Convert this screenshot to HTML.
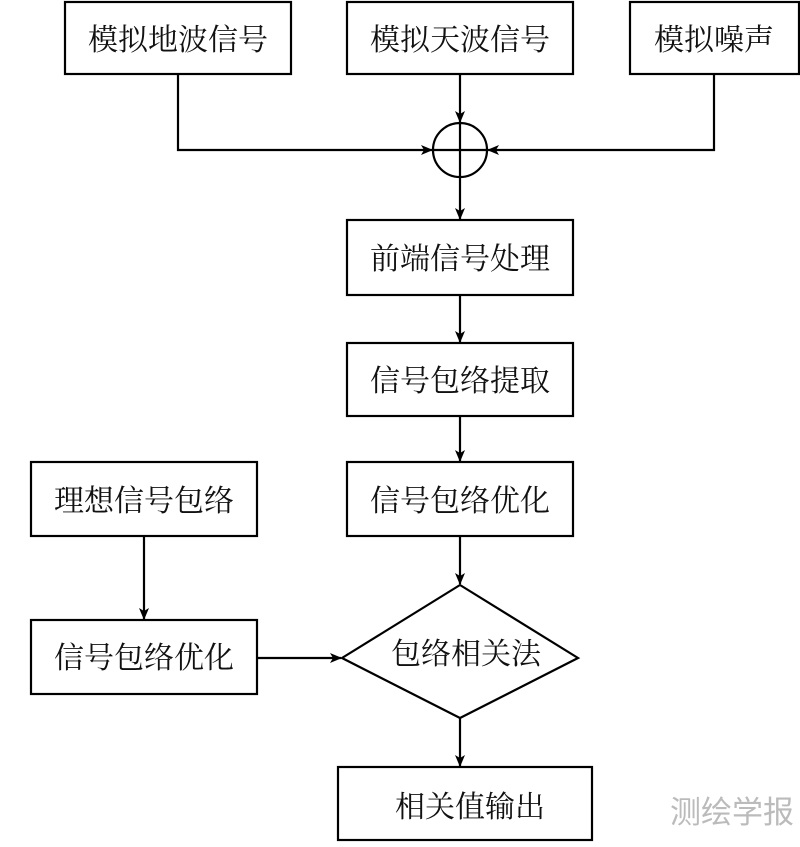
<!DOCTYPE html>
<html><head><meta charset="utf-8"><style>
html,body{margin:0;padding:0;background:#fff;}
svg text{font-family:"Liberation Serif","Noto Serif CJK SC",serif;font-size:30px;fill:#111;}
</style></head><body>
<svg width="800" height="842" viewBox="0 0 800 842" xmlns="http://www.w3.org/2000/svg">
<defs><marker id="a" markerWidth="12" markerHeight="10" refX="11" refY="5" orient="auto" markerUnits="userSpaceOnUse"><path d="M0,0 L12,5 L0,10 L3,5 Z" fill="#000"/></marker></defs>
<g fill="none" stroke="#000" stroke-width="2.2">
<rect x="65" y="2" width="226" height="72"/>
<rect x="347" y="2" width="226" height="72"/>
<rect x="630" y="2" width="169" height="72"/>
<circle cx="460" cy="150" r="27"/>
<line x1="460" y1="123" x2="460" y2="177"/>
<line x1="433" y1="150" x2="487" y2="150"/>
<polyline points="178,74 178,150 432,150" marker-end="url(#a)"/>
<polyline points="714,74 714,150 488,150" marker-end="url(#a)"/>
<line x1="460" y1="74" x2="460" y2="122" marker-end="url(#a)"/>
<line x1="460" y1="177" x2="460" y2="219" marker-end="url(#a)"/>
<rect x="347" y="220" width="226" height="75"/>
<line x1="460" y1="295" x2="460" y2="342" marker-end="url(#a)"/>
<rect x="347" y="343" width="226" height="73"/>
<line x1="460" y1="416" x2="460" y2="461" marker-end="url(#a)"/>
<rect x="347" y="462" width="226" height="74"/>
<rect x="31" y="462" width="226" height="74"/>
<line x1="144" y1="536" x2="144" y2="619" marker-end="url(#a)"/>
<rect x="31" y="620" width="226" height="74"/>
<line x1="257" y1="658" x2="341" y2="658" marker-end="url(#a)"/>
<line x1="460" y1="536" x2="460" y2="584" marker-end="url(#a)"/>
<polygon points="460,585 578,658 460,718 342,658"/>
<line x1="460" y1="718" x2="460" y2="766" marker-end="url(#a)"/>
<rect x="338" y="767" width="254" height="73"/>
</g>
<g text-anchor="middle">
<text x="178" y="50">模拟地波信号</text>
<text x="460" y="50">模拟天波信号</text>
<text x="714" y="50">模拟噪声</text>
<text x="460" y="269">前端信号处理</text>
<text x="460" y="391">信号包络提取</text>
<text x="460" y="511">信号包络优化</text>
<text x="144" y="511">理想信号包络</text>
<text x="144" y="668">信号包络优化</text>
<text x="466" y="664">包络相关法</text>
<text x="470" y="817">相关值输出</text>
<text x="732" y="823" style="fill:#bbb;font-family:'Liberation Sans','Noto Sans CJK SC',sans-serif;font-size:31px">测绘学报</text>
</g>
</svg>
</body></html>
